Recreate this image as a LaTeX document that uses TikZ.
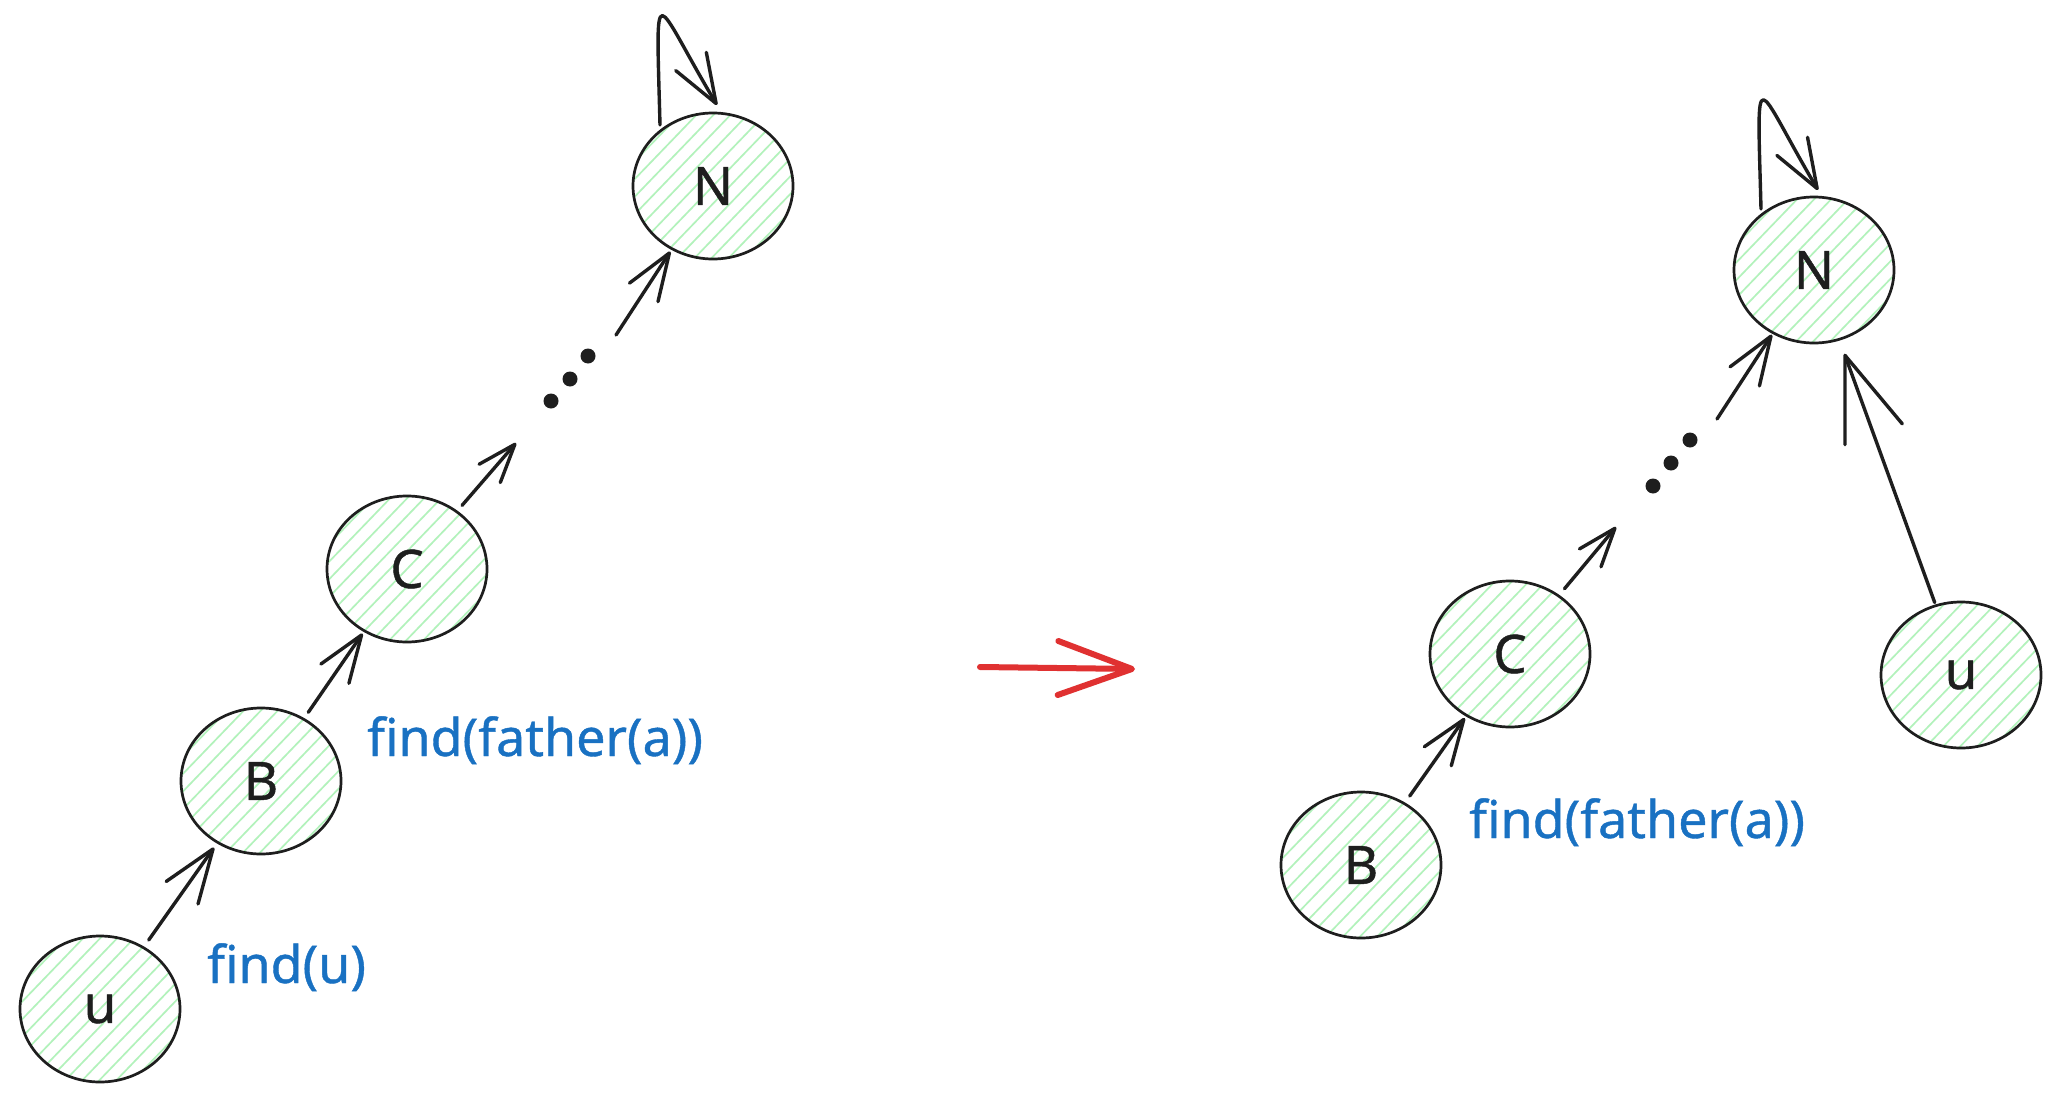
\documentclass[tikz,border=0pt]{standalone}
\usepackage{fontspec}
\setmainfont{Noto Sans}
\newfontfamily\diafont{Noto Sans}[FakeBold=0.8]
\usetikzlibrary{arrows.meta,calc,shapes.geometric}
\definecolor{ink}{HTML}{1E1E1E}
\definecolor{hatchgreen}{HTML}{B2F2BB}
\definecolor{lblue}{HTML}{1971C2}
\definecolor{redarr}{HTML}{E03131}
\begin{document}
\begin{tikzpicture}[x=1pt,y=-1pt,
  vnode/.style={ellipse, draw=ink, line width=2.7pt, minimum width=160pt, minimum height=146pt,
    inner sep=0pt, text=ink, font=\diafont\fontsize{53pt}{60pt}\selectfont,
    path picture={\foreach \k in {-12,...,12}{\draw[hatchgreen, line width=1.7pt]
      ($(path picture bounding box.center)+(\k*17-105,109)$) -- ++(210,-218);}}},
  dotmark/.style={circle, fill=ink, inner sep=0pt, minimum size=15pt},
  lbl/.style={text=lblue, anchor=base west, inner sep=0pt, font=\diafont\fontsize{52pt}{60pt}\selectfont},
  arr/.style 2 args={draw=ink, line width=3.4pt, line cap=round, line join=round,
    -{Straight Barb[length=#1, width=#2, round]}},
  redarrow/.style={draw=redarr, line width=6pt, line cap=round, line join=round,
    -{Straight Barb[length=74pt, width=54pt, round]}}
]
\fill[white] (0,0) rectangle (2056,1108);
\useasboundingbox (0,0) rectangle (2056,1108);

% ---------- left tree ----------
\node[vnode] (N) at (713,186) {N};
\node[vnode] (C) at (407,569) {C};
\node[vnode] (B) at (261,781) {B};
\node[vnode] (U) at (100,1009) {u};

\node[dotmark] (ld1) at (551,401) {};
\node[dotmark] (ld2) at (570,379) {};
\node[dotmark] (ld3) at (588,356) {};

\coordinate (cl1) at (516,443);
\coordinate (nl1) at (616,335);

\draw[arr={53.6pt}{39pt}, shorten <=8pt, shorten >=5pt] (U) -- (B);
\draw[arr={47pt}{34pt}, shorten <=7pt, shorten >=2pt] (B) -- (C);
\draw[arr={38.5pt}{28pt}, shorten <=7pt] (C) -- (cl1);
\draw[arr={47pt}{34pt}, shorten >=2pt] (nl1) -- (N);
\draw[arr={49pt}{35.6pt}] ($(N)+(-53,-61)$) .. controls ($(N)+(-57,-216)$) and ($(N)+(-61,-190)$) .. ($(N)+(4,-81)$);

\node[lbl] (lab1) at (367,756) {find(father(a))};
\node[lbl] (lab2) at (207,983) {find(u)};

% ---------- red arrow ----------
\coordinate (r1) at (980,667);
\coordinate (r2) at (1135,669);
\draw[redarrow] (r1) -- (r2);

% ---------- right tree ----------
\node[vnode] (N2) at (1814,270) {N};
\node[vnode] (C2) at (1510,654) {C};
\node[vnode] (B2) at (1361,865) {B};
\node[vnode] (U2) at (1961,675) {u};

\node[dotmark] (rd1) at (1653,486) {};
\node[dotmark] (rd2) at (1671,463) {};
\node[dotmark] (rd3) at (1690,440) {};

\coordinate (cr1) at (1616,527);
\coordinate (nr1) at (1717,419);

\draw[arr={45pt}{33pt}, shorten <=8pt, shorten >=2pt] (B2) -- (C2);
\draw[arr={38.5pt}{28pt}, shorten <=8pt] (C2) -- (cr1);
\draw[arr={48pt}{35pt}, shorten >=1pt] (nr1) -- (N2);
\draw[arr={84pt}{61pt}, shorten <=2pt, shorten >=14pt] (U2) -- (N2);
\draw[arr={49pt}{35.6pt}] ($(N2)+(-53,-61)$) .. controls ($(N2)+(-57,-216)$) and ($(N2)+(-61,-190)$) .. ($(N2)+(4,-80)$);

\node[lbl] (lab3) at (1469,838) {find(father(a))};
\end{tikzpicture}
\end{document}
